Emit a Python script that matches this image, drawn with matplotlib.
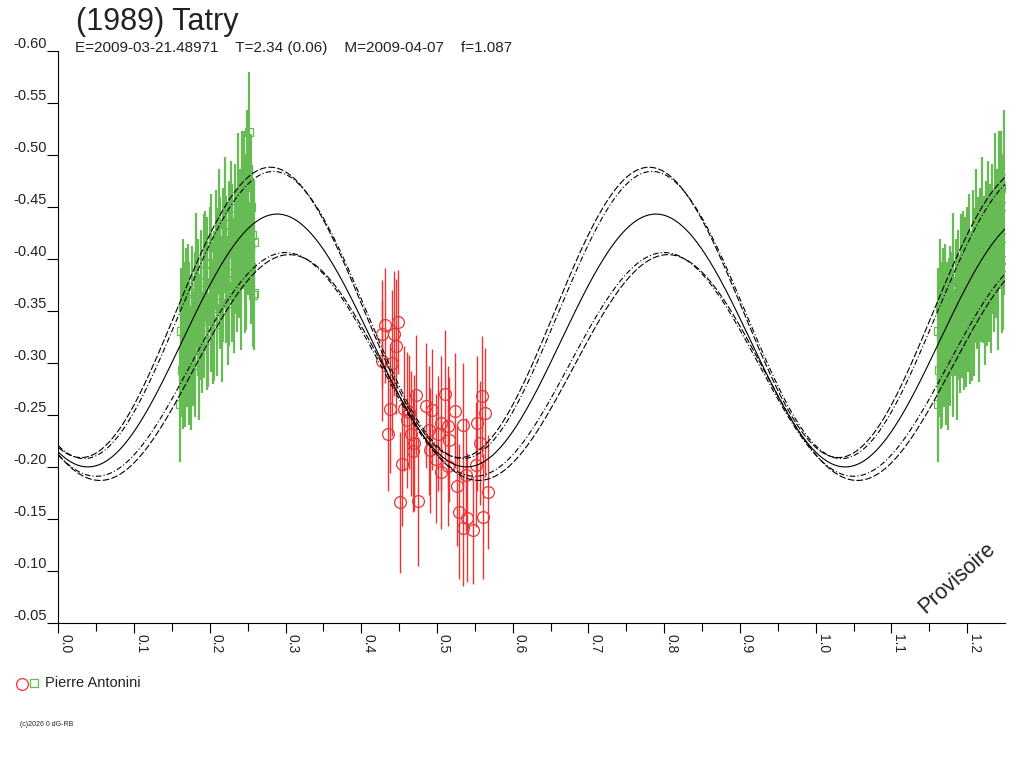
import numpy as np
import matplotlib
matplotlib.use('Agg')
import matplotlib.pyplot as plt

plt.rcParams['font.family'] = ['Liberation Sans', 'DejaVu Sans']

# Fourier fit (mean, amplitude, phase of maximum) for central curve and envelopes
fit_mid = (-0.3215, -0.1215, 0.289)
fit_up_a = (-0.3485, -0.1395, 0.280)
fit_up_b = (-0.3460, -0.1380, 0.284)
fit_lo_a = (-0.2955, -0.1085, 0.305)
fit_lo_b = (-0.2985, -0.1075, 0.300)

# green observations (squares)
green_phase = [0.161, 0.162, 0.163, 0.164, 0.165, 0.166, 0.167, 0.168, 0.170, 0.171,
               0.172, 0.173, 0.175, 0.176, 0.177, 0.178, 0.180, 0.181, 0.182, 0.184,
               0.185, 0.186, 0.188, 0.189, 0.190, 0.192, 0.193, 0.194, 0.196, 0.197,
               0.198, 0.200, 0.201, 0.202, 0.204, 0.205, 0.206, 0.208, 0.209, 0.210,
               0.212, 0.213, 0.214, 0.216, 0.217, 0.218, 0.220, 0.221, 0.222, 0.224,
               0.225, 0.226, 0.228, 0.229, 0.230, 0.232, 0.233, 0.234, 0.236, 0.237,
               0.238, 0.240, 0.241, 0.242, 0.244, 0.245, 0.246, 0.247, 0.248, 0.249,
               0.250, 0.251, 0.252, 0.253, 0.254, 0.255, 0.256, 0.257, 0.258, 0.259]
green_mag = [-0.260, -0.331, -0.293, -0.354, -0.286, -0.327, -0.278, -0.350, -0.313, -0.369,
             -0.305, -0.347, -0.295, -0.331, -0.367, -0.314, -0.347, -0.298, -0.379, -0.327,
             -0.364, -0.315, -0.378, -0.344, -0.316, -0.378, -0.340, -0.396, -0.334, -0.370,
             -0.322, -0.395, -0.356, -0.412, -0.340, -0.387, -0.353, -0.411, -0.337, -0.384,
             -0.426, -0.358, -0.404, -0.352, -0.418, -0.380, -0.433, -0.364, -0.405, -0.358,
             -0.425, -0.386, -0.449, -0.380, -0.417, -0.374, -0.441, -0.407, -0.375, -0.451,
             -0.398, -0.436, -0.377, -0.463, -0.416, -0.468, -0.399, -0.451, -0.392, -0.478,
             -0.420, -0.486, -0.522, -0.409, -0.450, -0.392, -0.423, -0.365, -0.416, -0.367]
green_err = [0.055, 0.060, 0.045, 0.065, 0.050, 0.070, 0.040, 0.060, 0.055, 0.045,
             0.065, 0.050, 0.060, 0.070, 0.045, 0.055, 0.060, 0.050, 0.065, 0.040,
             0.055, 0.070, 0.050, 0.060, 0.045, 0.065, 0.055, 0.050, 0.060, 0.070,
             0.045, 0.055, 0.065, 0.050, 0.060, 0.040, 0.070, 0.055, 0.050, 0.065,
             0.060, 0.045, 0.055, 0.070, 0.050, 0.060, 0.065, 0.045, 0.055, 0.060,
             0.050, 0.070, 0.045, 0.060, 0.055, 0.065, 0.050, 0.060, 0.045, 0.070,
             0.055, 0.050, 0.065, 0.060, 0.045, 0.055, 0.070, 0.050, 0.060, 0.065,
             0.055, 0.050, 0.058, 0.045, 0.070, 0.055, 0.065, 0.050, 0.060, 0.055]

# red observations (circles)
red_phase = [0.432, 0.427, 0.443, 0.449, 0.446, 0.428, 0.441, 0.438, 0.435, 0.454,
             0.451, 0.475, 0.472, 0.456, 0.463, 0.461, 0.485, 0.494, 0.510, 0.524,
             0.466, 0.470, 0.468, 0.490, 0.501, 0.491, 0.505, 0.514, 0.516, 0.505,
             0.499, 0.535, 0.526, 0.529, 0.538, 0.539, 0.534, 0.547, 0.551, 0.553,
             0.557, 0.559, 0.564, 0.567, 0.561, 0.515]
red_mag = [-0.336, -0.328, -0.328, -0.339, -0.316, -0.302, -0.300, -0.256, -0.232, -0.203,
           -0.166, -0.167, -0.269, -0.256, -0.253, -0.245, -0.259, -0.255, -0.270, -0.254,
           -0.232, -0.223, -0.215, -0.235, -0.232, -0.216, -0.242, -0.239, -0.226, -0.195,
           -0.208, -0.240, -0.182, -0.157, -0.192, -0.151, -0.141, -0.139, -0.202, -0.242,
           -0.223, -0.268, -0.252, -0.176, -0.152, -0.201]
red_err = [0.055, 0.052, 0.060, 0.050, 0.065, 0.058, 0.070, 0.062, 0.055, 0.060,
           0.068, 0.062, 0.058, 0.060, 0.055, 0.065, 0.060, 0.058, 0.062, 0.055,
           0.060, 0.065, 0.058, 0.062, 0.055, 0.060, 0.065, 0.058, 0.060, 0.055,
           0.062, 0.060, 0.058, 0.065, 0.055, 0.062, 0.055, 0.052, 0.060, 0.065,
           0.060, 0.058, 0.062, 0.055, 0.060, 0.058]

xticks = [0.0, 0.1, 0.2, 0.3, 0.4, 0.5, 0.6, 0.7, 0.8, 0.9, 1.0, 1.1, 1.2]
yticks = [-0.60, -0.55, -0.50, -0.45, -0.40, -0.35, -0.30, -0.25, -0.20, -0.15, -0.10, -0.05]

green = '#66bb55'
red = '#ee3333'

fig = plt.figure(figsize=(10.24, 7.68), dpi=100)
ax = fig.add_axes([58.3 / 1024, 1 - 623 / 768, (1005 - 58.3) / 1024, (623 - 50.7) / 768])


def fourier(ph, fit):
    c, a, p = fit
    return c + a * np.cos(4 * np.pi * (ph - p))


ph = np.linspace(0, 1.25, 800)
ax.plot(ph, fourier(ph, fit_mid), color='black', lw=0.8, zorder=4)
ax.plot(ph, fourier(ph, fit_up_a), color='black', lw=0.8, ls=(0, (6, 2)), zorder=4)
ax.plot(ph, fourier(ph, fit_up_b), color='black', lw=0.8, ls=(0, (5, 2, 1, 2)), zorder=4)
ax.plot(ph, fourier(ph, fit_lo_a), color='black', lw=0.8, ls=(0, (6, 2)), zorder=4)
ax.plot(ph, fourier(ph, fit_lo_b), color='black', lw=0.8, ls=(0, (5, 2, 1, 2)), zorder=4)

gp = np.array(green_phase)
gm = np.array(green_mag)
ge = np.array(green_err)
for shift in (0.0, 1.0):
    keep = gp + shift <= 1.25
    ax.errorbar(gp[keep] + shift, gm[keep], yerr=ge[keep], fmt='s', ms=6,
                mfc='none', mec=green, mew=0.9, ecolor=green, elinewidth=1.6,
                capsize=0, zorder=2)

ax.errorbar(red_phase, red_mag, yerr=red_err, fmt='o', ms=8.5, mfc='none',
            mec=red, mew=0.9, ecolor=red, elinewidth=1.0, capsize=0, zorder=3)

ax.set_xlim(0, 1.25)
ax.set_ylim(-0.05, -0.60)

ax.set_xticks(xticks)
ax.set_xticklabels(['%.1f' % v for v in xticks], rotation=-90, fontsize=10, color='#222222')
for lbl in ax.get_xticklabels():
    lbl.set_ha('left')
    lbl.set_va('top')
ax.set_xticks(np.arange(0.05, 1.25, 0.1), minor=True)
ax.tick_params(axis='x', which='major', direction='out', length=7.2, width=0.8, pad=1)
ax.tick_params(axis='x', which='minor', direction='out', length=6, width=0.8)

ax.set_yticks(yticks)
ax.set_yticklabels(['%.2f' % v for v in yticks], fontsize=10.5, color='#222222')
for lbl in ax.get_yticklabels():
    lbl.set_va('bottom')
ax.tick_params(axis='y', direction='out', length=8, width=0.8, pad=0)

for s in ('top', 'right'):
    ax.spines[s].set_visible(False)
for s in ('left', 'bottom'):
    ax.spines[s].set_linewidth(0.8)

fig.text(76 / 1024, 1 - 22 / 768, '(1989) Tatry', fontsize=22, va='center', color='#222222')
fig.text(75 / 1024, 1 - 48 / 768,
         'E=2009-03-21.48971    T=2.34 (0.06)    M=2009-04-07    f=1.087',
         fontsize=11, va='center', color='#222222')

fig.text(957 / 1024, 1 - 578 / 768, 'Provisoire', fontsize=15.5, rotation=42,
         ha='center', va='center', color='#222222')

fig.lines.append(plt.Line2D([22 / 1024], [1 - 684 / 768], marker='o', ms=8.5, mfc='none',
                            mec=red, mew=0.9, transform=fig.transFigure))
fig.lines.append(plt.Line2D([34 / 1024], [1 - 683 / 768], marker='s', ms=6, mfc='none',
                            mec=green, mew=0.9, transform=fig.transFigure))
fig.text(45 / 1024, 1 - 683 / 768, 'Pierre Antonini', fontsize=10.5, va='center', color='#222222')
fig.text(20 / 1024, 1 - 724 / 768, '(c)2026 0 dG-RB', fontsize=5, va='center', color='#222222')

fig.savefig('out.png', dpi=100)
